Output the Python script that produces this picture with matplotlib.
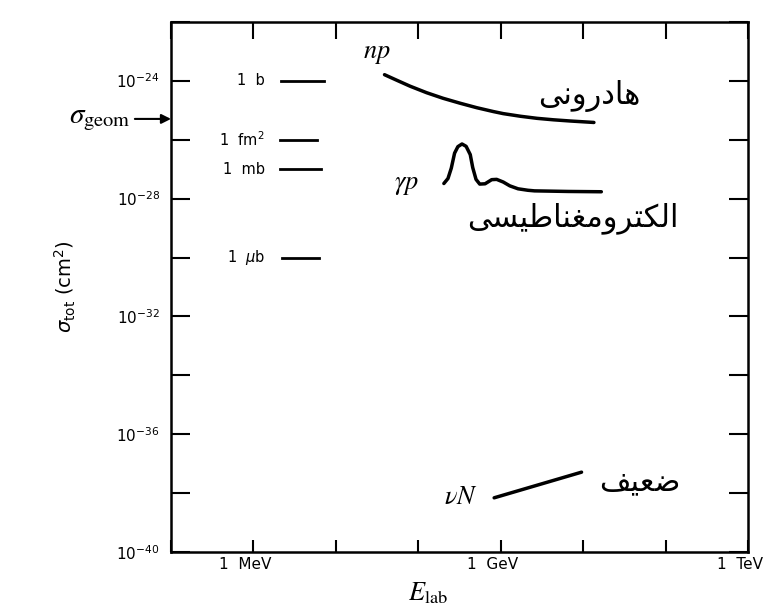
import matplotlib.pyplot as plt
import numpy as np
from matplotlib.ticker import FixedLocator, FixedFormatter, NullLocator
from matplotlib.transforms import ScaledTranslation

# log10 of energy (eV) and cross section (cm^2)
np_log_e = [7.59, 7.74, 7.90, 8.10, 8.30, 8.51, 8.71, 8.91, 9.03, 9.24, 9.44, 9.64,
            9.84, 10.13]
np_log_sigma = [-23.80, -23.99, -24.19, -24.41, -24.60, -24.77, -24.92, -25.05, -25.12,
                -25.21, -25.28, -25.33, -25.37, -25.42]

gp_log_e = [8.31, 8.36, 8.40, 8.44, 8.48, 8.53, 8.58, 8.63, 8.66, 8.70, 8.745, 8.81,
            8.89, 8.95, 9.03, 9.11, 9.21, 9.33, 9.41, 9.82, 10.22]
gp_log_sigma = [-27.49, -27.32, -26.97, -26.46, -26.24, -26.15, -26.23, -26.51, -26.95,
                -27.35, -27.51, -27.50, -27.36, -27.35, -27.44, -27.57, -27.67, -27.72,
                -27.74, -27.76, -27.77]

nun_log_e = [8.92, 9.98]
nun_log_sigma = [-38.15, -37.28]

unit_names = ["1  b", "1  fm$^2$", "1  mb", "1  $\\mu$b"]
unit_log_sigma = [-24, -26, -27, -30]
unit_log_e_start = [6.34, 6.32, 6.32, 6.35]
unit_log_e_end = [6.86, 6.77, 6.82, 6.80]

sigma_geom_log = -25.3

x_tick_exps = [5, 6, 7, 8, 9, 10, 11, 12]
x_tick_names = {6: "1  MeV", 9: "1  GeV", 12: "1  TeV"}
y_tick_exps = [-40, -38, -36, -34, -32, -30, -28, -26, -24, -22]
y_labelled = [-40, -36, -32, -28, -24]

label_hadronic = "هادرونی"
label_em = "الکترومغناطیسی"
label_weak = "ضعیف"

# presentation forms: (isolated, final, initial, medial); two entries = joins on the right only
FORMS = {
    "ا": ("\ufe8d", "\ufe8e"), "د": ("\ufea9", "\ufeaa"),
    "ر": ("\ufead", "\ufeae"), "و": ("\ufeed", "\ufeee"),
    "ه": ("\ufee9", "\ufeea", "\ufeeb", "\ufeec"),
    "ن": ("\ufee5", "\ufee6", "\ufee7", "\ufee8"),
    "ی": ("\ufeef", "\ufef0", "\ufef3", "\ufef4"),
    "ل": ("\ufedd", "\ufede", "\ufedf", "\ufee0"),
    "ک": ("\ufb8e", "\ufb8f", "\ufb90", "\ufb91"),
    "ت": ("\ufe95", "\ufe96", "\ufe97", "\ufe98"),
    "م": ("\ufee1", "\ufee2", "\ufee3", "\ufee4"),
    "غ": ("\ufecd", "\ufece", "\ufecf", "\ufed0"),
    "ط": ("\ufec1", "\ufec2", "\ufec3", "\ufec4"),
    "س": ("\ufeb1", "\ufeb2", "\ufeb3", "\ufeb4"),
    "ض": ("\ufebd", "\ufebe", "\ufebf", "\ufec0"),
    "ع": ("\ufec9", "\ufeca", "\ufecb", "\ufecc"),
    "ف": ("\ufed1", "\ufed2", "\ufed3", "\ufed4"),
}


def shape(word):
    # matplotlib has no arabic shaping, so pick the joined forms by hand
    out = []
    for i, ch in enumerate(word):
        forms = FORMS[ch]
        prev_joins = i > 0 and len(FORMS[word[i - 1]]) == 4
        next_joins = len(forms) == 4 and i < len(word) - 1
        if prev_joins and next_joins:
            out.append(forms[3])
        elif next_joins:
            out.append(forms[2])
        elif prev_joins:
            out.append(forms[1])
        else:
            out.append(forms[0])
    return "".join(reversed(out))


plt.rcParams['font.family'] = ['DejaVu Sans']

fig = plt.figure(figsize=(7.72, 6.09), dpi=100)
ax = fig.add_axes([0.2215, 0.093, 0.7475, 0.8715])
ax.set_xscale('log')
ax.set_yscale('log')
ax.set_xlim(1e5, 1e12)
ax.set_ylim(1e-40, 1e-22)

lw = 2.5
line_kw = dict(color='black', lw=lw, solid_capstyle='round', solid_joinstyle='round')
ax.plot(10.0 ** np.array(np_log_e), 10.0 ** np.array(np_log_sigma), **line_kw)
ax.plot(10.0 ** np.array(gp_log_e), 10.0 ** np.array(gp_log_sigma), **line_kw)
ax.plot(10.0 ** np.array(nun_log_e), 10.0 ** np.array(nun_log_sigma), **line_kw)

for name, ys, xs, xe in zip(unit_names, unit_log_sigma, unit_log_e_start, unit_log_e_end):
    ax.plot([10.0 ** xs, 10.0 ** xe], [10.0 ** ys] * 2, color='black', lw=2.0)
    ax.text(10.0 ** 6.14, 10.0 ** ys, name, ha='right', va='center', fontsize=10.5)

# curve labels
ax.text(10.0 ** 7.50, 10.0 ** -23.05, "$np$", fontsize=19, ha='center', va='center',
        math_fontfamily='stix')
ax.text(10.0 ** 7.86, 10.0 ** -27.5, r"$\gamma p$", fontsize=19, ha='center', va='center',
        math_fontfamily='stix')
ax.text(10.0 ** 8.52, 10.0 ** -38.12, r"$\nu N$", fontsize=19, ha='center', va='center',
        math_fontfamily='stix')
ax.text(10.0 ** 10.08, 10.0 ** -24.52, shape(label_hadronic), fontsize=22, ha='center',
        va='center', family='DejaVu Sans')
ax.text(10.0 ** 9.88, 10.0 ** -28.67, shape(label_em), fontsize=22, ha='center',
        va='center', family='DejaVu Sans')
ax.text(10.0 ** 10.69, 10.0 ** -37.6, shape(label_weak), fontsize=22, ha='center',
        va='center', family='DejaVu Sans')

# geometric cross section arrow on the left axis
ax.annotate(r"$\sigma_{\mathrm{geom}}$", xy=(0, 10.0 ** sigma_geom_log),
            xycoords=('axes fraction', 'data'), xytext=(-29, 0), textcoords='offset points',
            ha='right', va='center', fontsize=21, math_fontfamily='stix',
            arrowprops=dict(arrowstyle='-|>', color='black', lw=1.5, shrinkA=1, shrinkB=0,
                            mutation_scale=14))

ax.xaxis.set_major_locator(FixedLocator([10.0 ** e for e in x_tick_exps]))
ax.xaxis.set_major_formatter(FixedFormatter([x_tick_names.get(e, "") for e in x_tick_exps]))
ax.xaxis.set_minor_locator(NullLocator())
ax.yaxis.set_major_locator(FixedLocator([10.0 ** e for e in y_tick_exps]))
ax.yaxis.set_major_formatter(FixedFormatter(
    ["$10^{%d}$" % e if e in y_labelled else "" for e in y_tick_exps]))
ax.yaxis.set_minor_locator(NullLocator())

ax.tick_params(axis='both', direction='in', top=True, right=True, width=1.5, labelsize=11)
ax.tick_params(axis='x', length=9, pad=3)
ax.tick_params(axis='y', length=14, pad=8)
for t in ax.xaxis.get_major_ticks():
    t.tick2line.set_markersize(12)
for lab in ax.get_xticklabels():
    lab.set_transform(lab.get_transform() + ScaledTranslation(-8 / 100, 0, fig.dpi_scale_trans))
for spine in ax.spines.values():
    spine.set_linewidth(1.8)

ax.set_xlabel(r"$E_{\mathrm{lab}}$", fontsize=19, math_fontfamily='stix')
ax.xaxis.set_label_coords(0.445, -0.052)
ax.set_ylabel(r"$\sigma_{\mathrm{tot}}$ (cm$^2$)", fontsize=14, labelpad=28)

fig.savefig("out.png", dpi=100)
